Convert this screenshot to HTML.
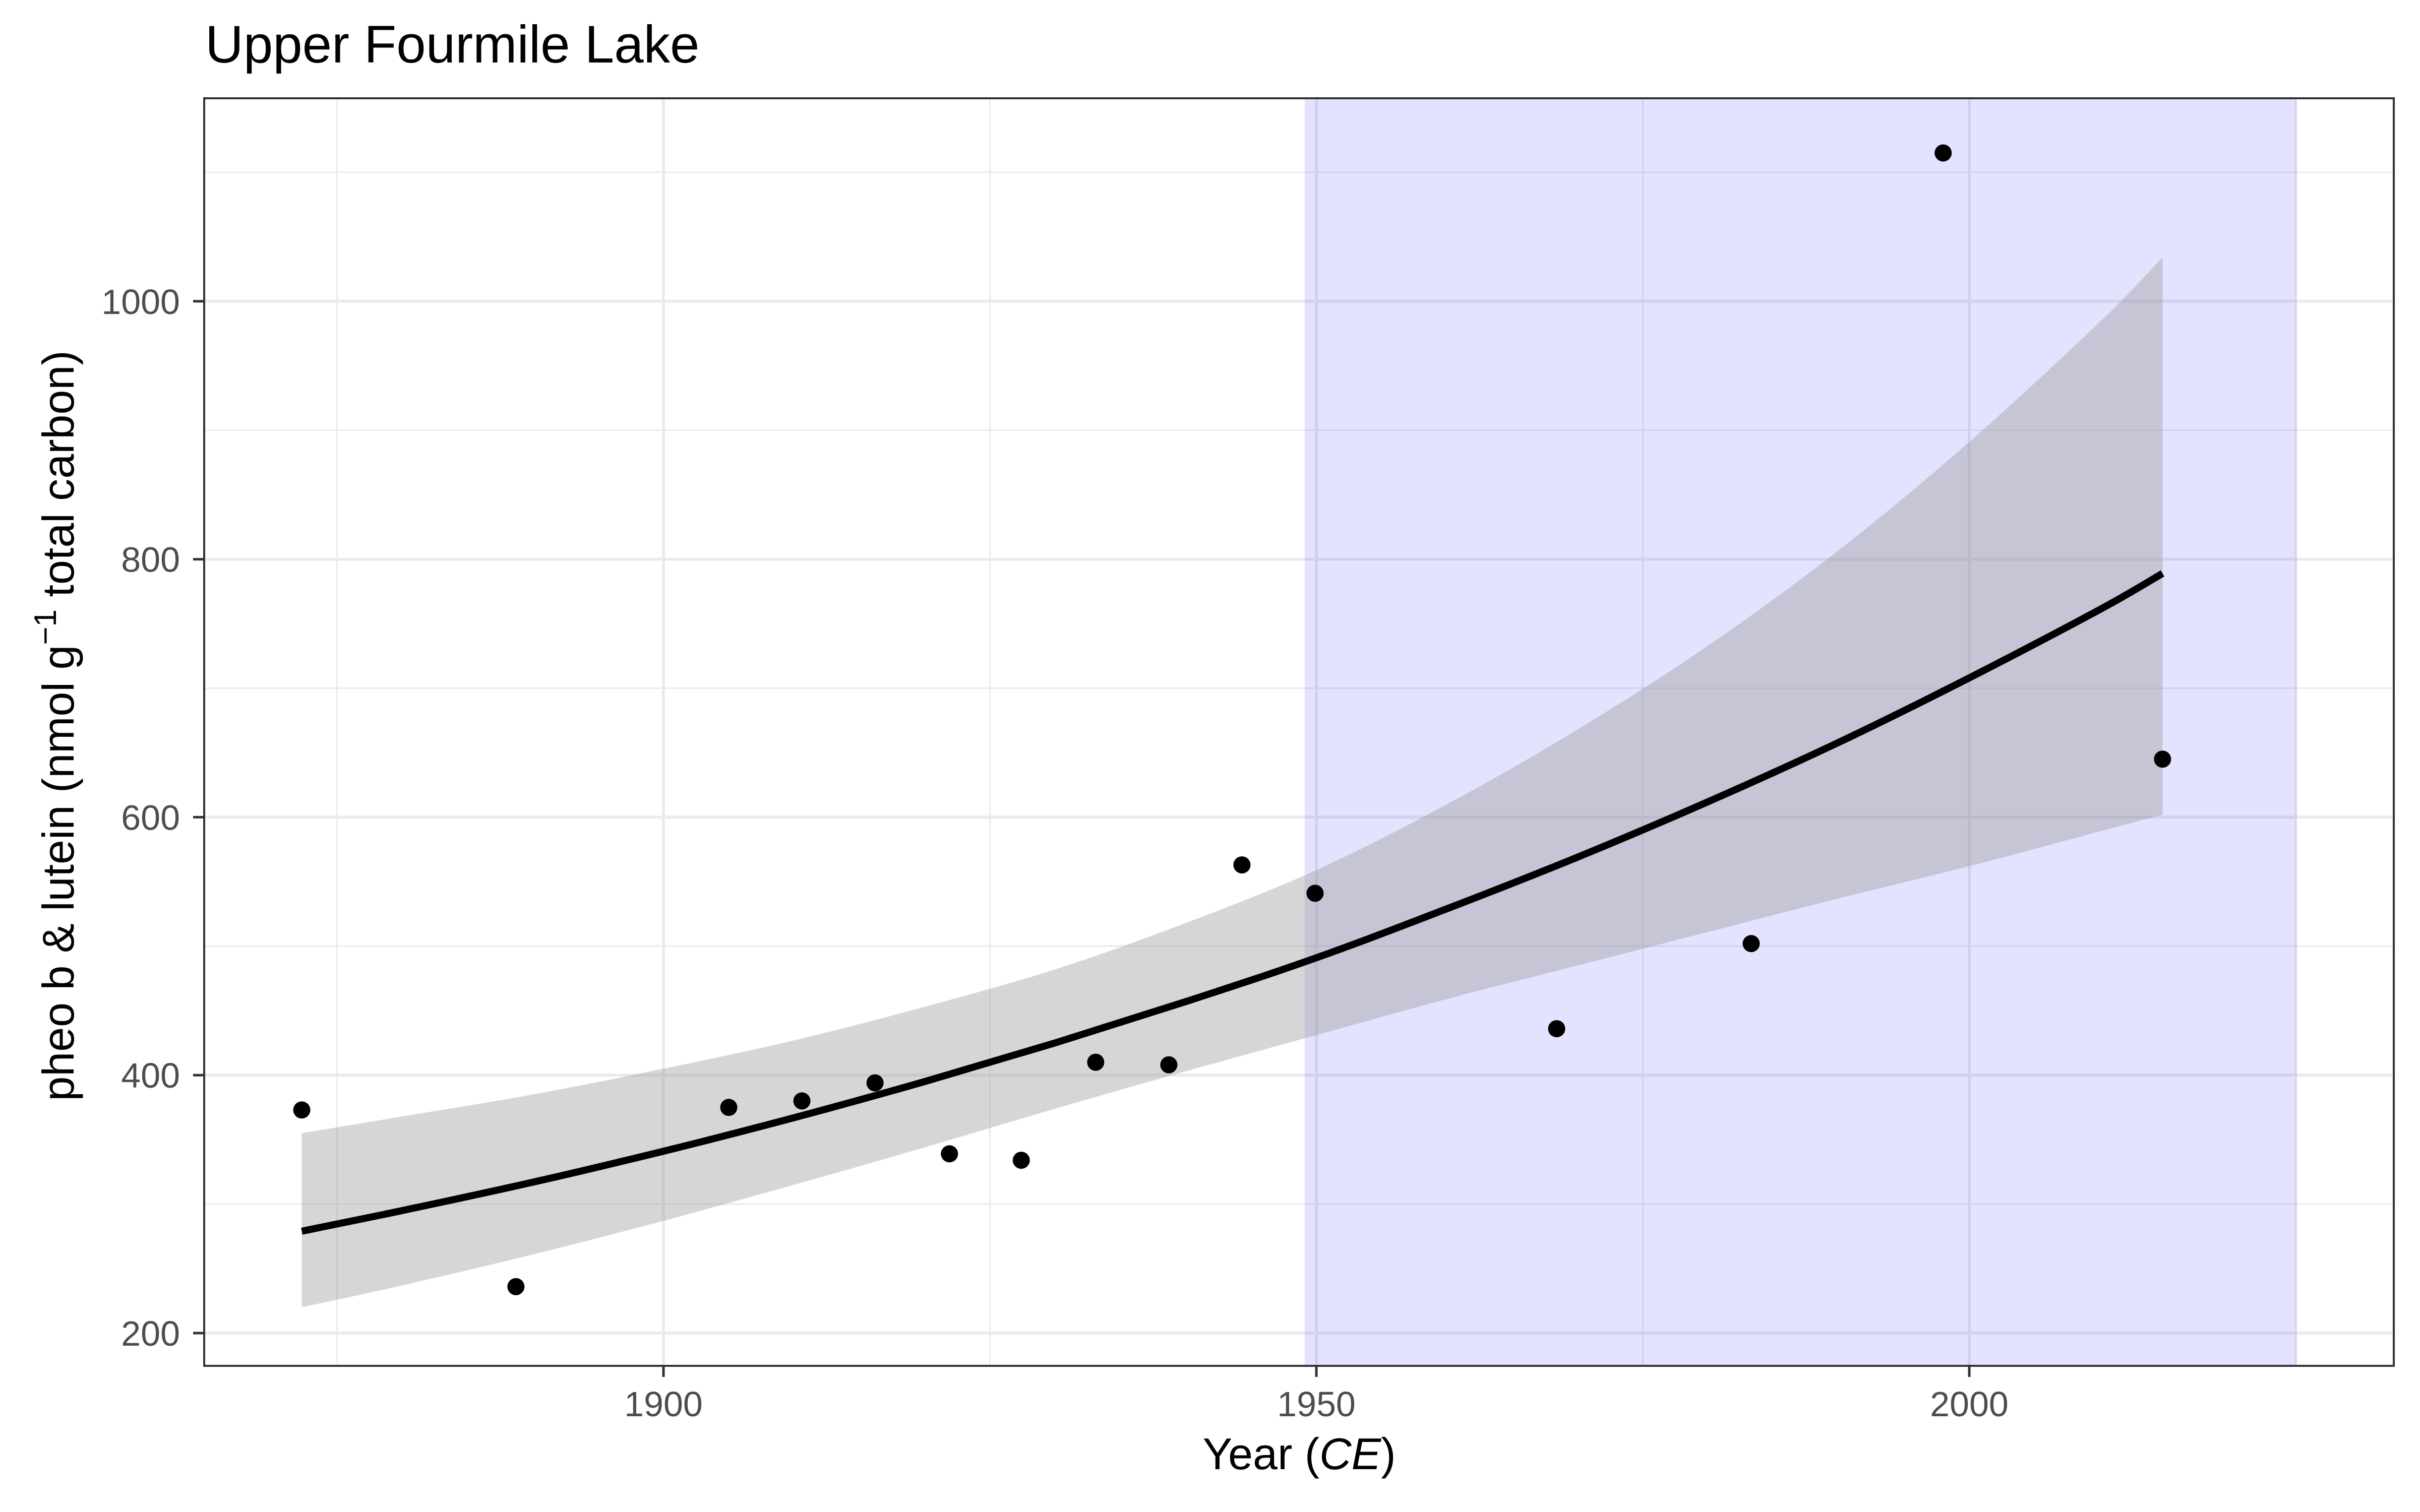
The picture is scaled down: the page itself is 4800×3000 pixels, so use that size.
<!DOCTYPE html>
<html><head><meta charset="utf-8"><style>
html,body{margin:0;padding:0;background:#fff;}
svg{display:block;font-family:"Liberation Sans",sans-serif;}
</style></head><body>
<svg id="chart" width="4800" height="3000" viewBox="0 0 4800 3000">
<rect width="4800" height="3000" fill="#fff"/>
<text x="407" y="124" font-size="105" fill="#000">Upper Fourmile Lake</text>
<g id="grid"></g>
<g id="marks"></g>
<g id="axes"></g>
<text x="2577" y="2915" font-size="88" text-anchor="middle" fill="#000">Year (<tspan font-style="italic">CE</tspan>)</text>
<text transform="translate(146,1440) rotate(-90)" font-size="88" text-anchor="middle" fill="#000">pheo b &amp; lutein (nmol g<tspan dy="-35" font-size="62">−1</tspan><tspan dy="35"> total carbon)</tspan></text>
</svg>
<script>
const pointYears = [1872.3,1888.7,1905.0,1910.6,1916.2,1921.9,1927.4,1933.1,1938.7,1944.3,1949.9,1968.4,1983.3,1998.0,2014.8];
const pointValues = [373,236,375,380,394,339,334,410,408,563,541,436,502,1115,645];
const fitYears = [1872.3,1880,1890,1900,1910,1920,1930,1940,1950,1960,1970,1980,1990,2000,2010,2014.8];
const fitValues = [279,295,317,341,367,395,425,457,491,529,569,612,658,708,761,789];
const fitUpper = [355,368,385,405,427,453,482,518,559,610,668,733,807,891,984,1034];
const fitLower = [220,237,261,287,315,344,374,403,431,459,485,511,537,562,589,602];
const shadeRange = [1949.1,2025.1];
const xMajorTicks = [1900,1950,2000];
const xMinorTicks = [1875,1925,1975,2025];
const yMajorTicks = [200,400,600,800,1000];
const yMinorTicks = [300,500,700,900,1100];

const PL=405, PR=4748, PT=195, PB=2710;
const X = y => 1316 + (y-1900)*25.9;
const Y = v => 2645 - (v-200)*2.559;
const NS='http://www.w3.org/2000/svg';
function mk(tag, attrs, parent){const e=document.createElementNS(NS,tag);for(const k in attrs)e.setAttribute(k,attrs[k]);parent.appendChild(e);return e;}
function smooth(pts, start){
  let d=(start?'M':'L')+pts[0][0]+','+pts[0][1];
  for(let i=0;i<pts.length-1;i++){
    const p0=pts[i-1]||pts[i], p1=pts[i], p2=pts[i+1], p3=pts[i+2]||p2;
    const c1=[p1[0]+(p2[0]-p0[0])/6, p1[1]+(p2[1]-p0[1])/6];
    const c2=[p2[0]-(p3[0]-p1[0])/6, p2[1]-(p3[1]-p1[1])/6];
    d+='C'+c1[0]+','+c1[1]+' '+c2[0]+','+c2[1]+' '+p2[0]+','+p2[1];
  }
  return d;
}
const grid=document.getElementById('grid'), marks=document.getElementById('marks'), axes=document.getElementById('axes');

mk('rect',{x:PL,y:PT,width:PR-PL,height:PB-PT,fill:'#fff'},grid);
xMinorTicks.forEach(t=>{const l=mk('line',{x1:X(t),x2:X(t),y1:PT,y2:PB,stroke:'#ebebeb','stroke-width':3},grid);

});
yMinorTicks.forEach(t=>{const l=mk('line',{x1:PL,x2:PR,y1:Y(t),y2:Y(t),stroke:'#ebebeb','stroke-width':3},grid);

});
xMajorTicks.forEach(t=>{const l=mk('line',{x1:X(t),x2:X(t),y1:PT,y2:PB,stroke:'#ebebeb','stroke-width':6},grid);

});
yMajorTicks.forEach(t=>{const l=mk('line',{x1:PL,x2:PR,y1:Y(t),y2:Y(t),stroke:'#ebebeb','stroke-width':6},grid);

});

const shade=mk('rect',{x:X(shadeRange[0]),y:PT,width:X(shadeRange[1])-X(shadeRange[0]),height:PB-PT,fill:'rgb(0,0,255)','fill-opacity':0.11},marks);



const up=fitYears.map((y,i)=>[X(y),Y(fitUpper[i])]);
const lo=fitYears.map((y,i)=>[X(y),Y(fitLower[i])]).reverse();
const rib=mk('path',{d:smooth(up,true)+smooth(lo,false)+'Z',fill:'#999','fill-opacity':0.4},marks);



const fl=mk('path',{d:smooth(fitYears.map((y,i)=>[X(y),Y(fitValues[i])]),true),fill:'none',stroke:'#000','stroke-width':14,'stroke-linejoin':'round'},marks);



pointYears.forEach((y,i)=>{const c=mk('circle',{cx:X(y),cy:Y(pointValues[i]),r:17,fill:'#000'},marks);

});

const border=mk('rect',{x:PL,y:PT,width:PR-PL,height:PB-PT,fill:'none',stroke:'#333','stroke-width':4},axes);


xMajorTicks.forEach(t=>{const l=mk('line',{x1:X(t),x2:X(t),y1:PB,y2:PB+22,stroke:'#333','stroke-width':5},axes);


const tx=mk('text',{x:X(t),y:PB+100,'font-size':70,fill:'#4d4d4d','text-anchor':'middle'},axes);tx.textContent=t;

});
yMajorTicks.forEach(t=>{const l=mk('line',{x1:PL-22,x2:PL,y1:Y(t),y2:Y(t),stroke:'#333','stroke-width':5},axes);


const tx=mk('text',{x:357,y:Y(t)+25,'font-size':70,fill:'#4d4d4d','text-anchor':'end'},axes);tx.textContent=t;

});
</script>
</body></html>
